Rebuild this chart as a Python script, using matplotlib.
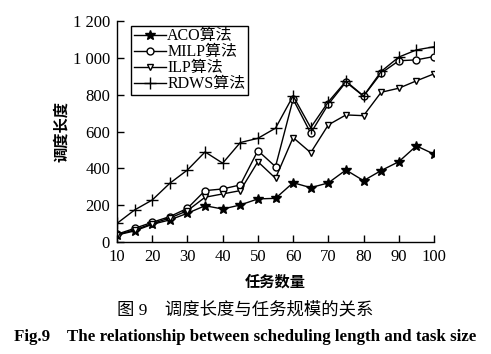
import matplotlib
matplotlib.use("Agg")
import matplotlib.pyplot as plt
from matplotlib.ticker import FuncFormatter

plt.rcParams['font.family'] = ['Liberation Serif', 'Noto Sans CJK SC']

# Dati
tasks = [10, 15, 20, 25, 30, 35, 40, 45, 50, 55, 60, 65, 70, 75, 80, 85, 90, 95, 100]
aco = [38, 60, 96, 120, 156, 197, 179, 201, 234, 237, 322, 295, 321, 391, 333, 388, 436, 522, 477]
milp = [42, 74, 107, 138, 183, 279, 288, 310, 496, 409, 775, 591, 748, 868, 792, 917, 984, 989, 1007]
ilp = [40, 65, 100, 130, 170, 243, 261, 279, 436, 346, 567, 485, 636, 690, 686, 813, 835, 875, 913]
rdws = [101, 174, 228, 319, 391, 489, 428, 540, 563, 618, 793, 621, 761, 873, 793, 926, 1004, 1043, 1060]

fig = plt.figure(figsize=(4.91, 3.54), dpi=100)
ax = fig.add_axes([117/491, 1-242/354, (434-117)/491, (242-21)/354])

ax.plot(tasks, aco, 'k-*', lw=1, ms=7, label='ACO算法')
ax.plot(tasks, milp, 'k-o', lw=1, ms=5, mfc='white', label='MILP算法')
ax.plot(tasks, ilp, 'k-v', lw=1, ms=5, mfc='white', label='ILP算法')
ax.plot(tasks, rdws, 'k-+', lw=1, ms=8, label='RDWS算法')

ax.set_xlim(10, 100)
ax.set_ylim(0, 1200)
ax.set_xticks(range(10, 101, 10))
ax.set_yticks(range(0, 1201, 200))
ax.yaxis.set_major_formatter(FuncFormatter(lambda v, p: f"{int(v):,}".replace(',', ' ')))
ax.tick_params(direction='in', labelsize=12, length=5, width=1, pad=5)
for s in ['top', 'right']:
    ax.spines[s].set_visible(False)
ax.spines['left'].set_linewidth(1)
ax.spines['bottom'].set_linewidth(1)

ax.set_xlabel('任务数量', fontsize=11, fontweight='bold', labelpad=7)
ax.set_ylabel('调度长度', fontsize=11, fontweight='bold', labelpad=3)

leg = ax.legend(loc='upper left', bbox_to_anchor=(0.03, 1.0), fontsize=11.5,
                handlelength=2.0, handletextpad=0.1, labelspacing=0.0,
                borderpad=0.15, borderaxespad=0.3, fancybox=False,
                edgecolor='black', framealpha=1)
leg.get_frame().set_linewidth(1)

fig.text(0.5, 1-310/354, '图 9    调度长度与任务规模的关系', ha='center', va='center', fontsize=12.5)
fig.text(0.5, 1-337/354, 'Fig.9    The relationship between scheduling length and task size',
         ha='center', va='center', fontsize=12.2, fontweight='bold')

plt.savefig('out.png', dpi=100)
